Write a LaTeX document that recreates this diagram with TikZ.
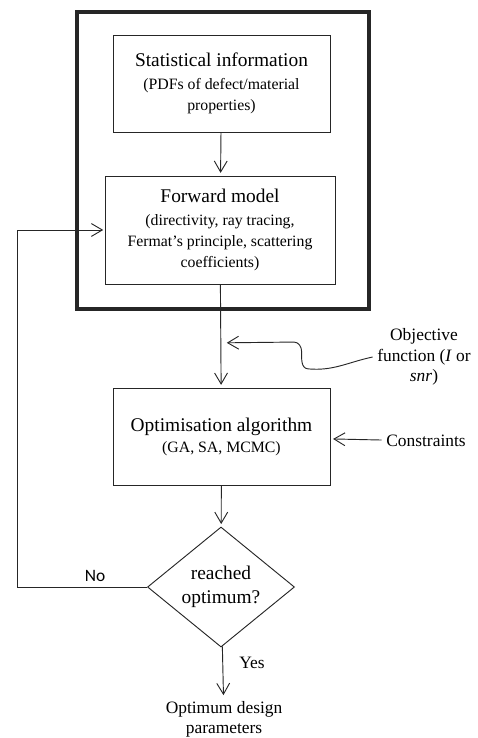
\documentclass[tikz,border=0pt]{standalone}
\usepackage{fontspec}
\setmainfont{Liberation Serif}
\newfontfamily\labelfont{Carlito}
\usetikzlibrary{arrows.meta, shapes.geometric}

\begin{document}
\begin{tikzpicture}[
    line/.style={draw=black!85, line width=0.7pt},
    arr/.style={line, -{Straight Barb[length=2.9mm, width=3.4mm]}},
    stagebox/.style={line, rectangle, align=center, inner sep=0pt,
                     font=\fontsize{11.9}{15.75}\selectfont},
    bigtext/.style={font=\fontsize{14.6}{18}\selectfont},
    sidetext/.style={align=center, font=\fontsize{13.1}{15.4}\selectfont}
  ]
  \useasboundingbox (0,0) rectangle (12.621,-19.526);

  % outer frame
  \draw[draw=black!85, line width=2.5pt] (2.037,-0.318) rectangle (9.763,-8.176);

  % stages
  \node[stagebox, minimum width=5.741cm, minimum height=2.566cm] (stats) at (5.860,-2.209)
    {{\fontsize{14.6}{18}\selectfont Statistical information}\\[1.5pt]
     (PDFs of defect/material\\ properties)};
  \node[stagebox, minimum width=6.085cm, minimum height=2.857cm] (forward) at (5.821,-6.085)
    {{\fontsize{14.6}{18}\selectfont Forward model}\\[1.5pt]
     (directivity, ray tracing,\\ Fermat's principle, scattering\\ coefficients)};
  \node[stagebox, minimum width=5.741cm, minimum height=2.566cm] (optim) at (5.860,-11.549)
    {{\fontsize{14.6}{18}\selectfont Optimisation algorithm}\\[0pt]
     (GA, SA, MCMC)};
  \node[line, diamond, aspect=1.225, minimum width=3.889cm, minimum height=3.175cm,
        inner sep=0pt, align=center, bigtext] (check) at (5.847,-15.531)
    {reached\\optimum?};

  % side inputs and result
  \node[sidetext] (objective) at (11.218,-9.446) {Objective\\function (\textit{I} or\\\textit{snr})};
  \node[sidetext] (constr) at (11.271,-11.668) {Constraints};
  \node[sidetext] (result) at (5.927,-19.030) {Optimum design\\parameters};
  \node[font=\labelfont\fontsize{13.1}{15}\selectfont] (no) at (2.514,-15.240) {No};
  \node[sidetext] (yes) at (6.667,-17.542) {Yes};

  \coordinate (hit) at (6.000,-9.070);
  \coordinate (loop) at (0.450,-15.531);

  % flow
  \draw[arr, shorten >=2pt] (stats) -- (forward);
  \draw[arr, shorten >=2pt] (forward) -- (optim);
  \draw[arr, shorten >=2pt] (optim) -- (check);
  \draw[arr, shorten >=1pt] (check) -- (result);
  \draw[arr, shorten >=2pt] (constr) -- (optim);
  \draw[arr, shorten >=1pt] (check.west) -- (loop) |- (forward.west);

  % wavy objective arrow
  \draw[arr] (objective.west) to[out=192, in=-5] (8.15,-9.76)
    to[out=175, in=-90] (7.98,-9.30) to[out=90, in=-2] (7.78,-9.05) -- (hit);
\end{tikzpicture}
\end{document}
